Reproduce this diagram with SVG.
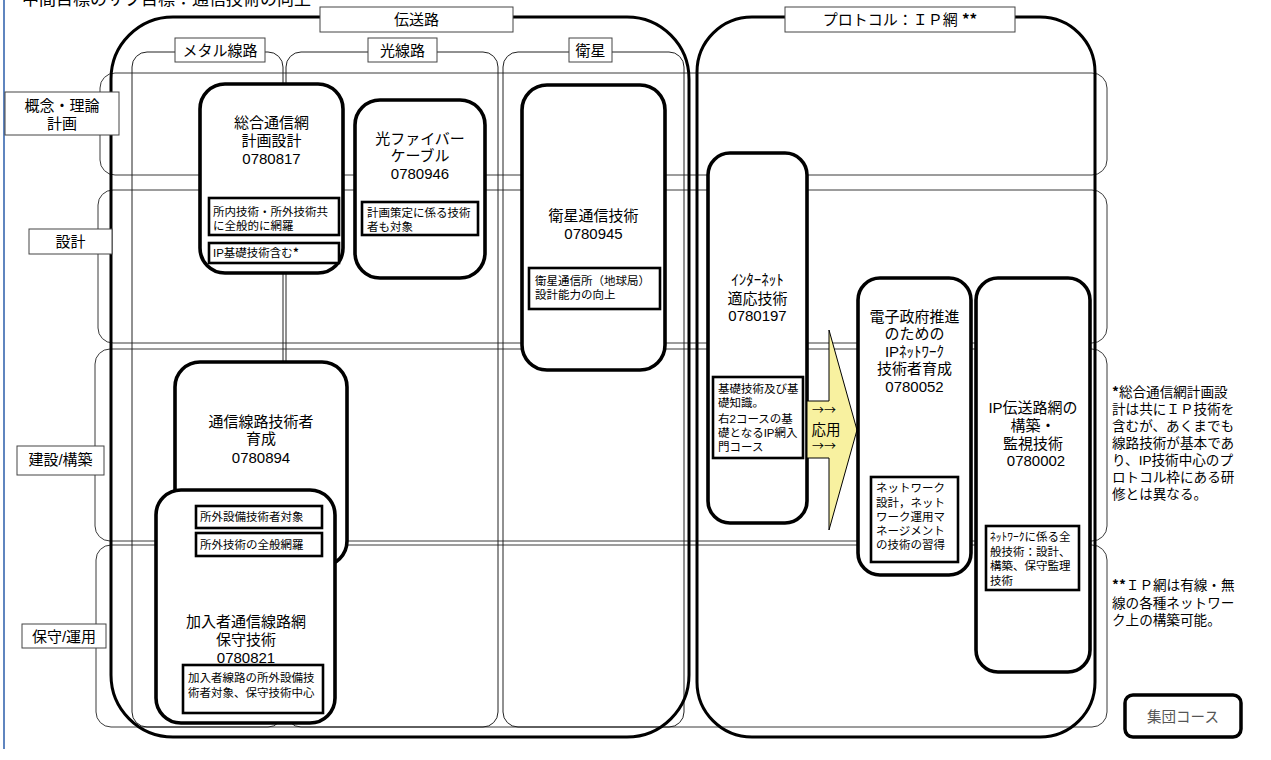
<svg xmlns="http://www.w3.org/2000/svg" width="1271" height="760" viewBox="0 0 1271 760">
<style>
  text { font-family: "Liberation Sans", "Noto Sans CJK JP", sans-serif; fill: #000; }
  .band { fill: none; stroke: #3a3a3a; stroke-width: 1; }
  .col { fill: none; stroke: #222; stroke-width: 1; }
  .frame { fill: none; stroke: #000; stroke-width: 3; }
  .node { fill: #fff; stroke: #000; stroke-width: 3.6; }
  .sub { fill: #fff; stroke: #000; stroke-width: 2.6; }
  .lbl { fill: #fff; stroke: #444; stroke-width: 1; }
  .t { font-size: 15px; text-anchor: middle; }
  .s { font-size: 11.5px; }
  .n { font-size: 13.6px; }
  .ast { font-family: "Noto Sans CJK JP", sans-serif; font-weight: bold; }
  .arr { font-family: "Noto Sans CJK JP", sans-serif; font-size: 12px; }
</style>

<line x1="4" y1="0" x2="4" y2="749" stroke="#2a5caa" stroke-width="1.5"/>
<text x="22" y="5" font-size="17" font-family="Liberation Serif, Noto Sans CJK JP, serif">中間目標のサブ目標：通信技術の向上</text>

<g id="rows">
  <rect class="band" x="100" y="73" width="1007" height="102" rx="15"/>
  <rect class="band" x="98" y="190" width="1009" height="153" rx="15"/>
  <rect class="band" x="95" y="349" width="1012" height="192" rx="15"/>
  <rect class="band" x="96" y="545" width="1011" height="182" rx="15"/>
</g>

<g id="columns">
  <rect class="col" x="132" y="52" width="151" height="675" rx="15"/>
  <rect class="col" x="286" y="52" width="212" height="675" rx="15"/>
  <rect class="col" x="503" y="52" width="181" height="675" rx="15"/>
</g>

<g id="frame-densoro">
  <rect class="frame" x="111" y="17" width="578" height="720" rx="62"/>
  <rect class="lbl" x="320" y="7" width="193" height="25"/>
  <text class="t" x="416.5" y="25">伝送路</text>
</g>
<g id="frame-protocol">
  <rect class="frame" x="697" y="17" width="398" height="720" rx="55"/>
  <rect class="lbl" x="785" y="7" width="230" height="25"/>
  <text class="t" x="900" y="25">プロトコル：ＩＰ網 <tspan class="ast">**</tspan></text>
</g>

<g id="col-labels">
  <g id="lbl-metal"><rect class="lbl" x="175" y="38" width="90" height="24"/><text class="t" x="220" y="55.5">メタル線路</text></g>
  <g id="lbl-hikari"><rect class="lbl" x="368" y="38" width="69" height="24"/><text class="t" x="402.5" y="55.5">光線路</text></g>
  <g id="lbl-eisei"><rect class="lbl" x="569" y="38" width="43" height="24"/><text class="t" x="590.5" y="55.5">衛星</text></g>
</g>

<g id="row-labels">
  <g id="lbl-gainen"><rect class="lbl" x="5" y="92" width="114" height="43"/><text class="t" x="62" y="110.5">概念・理論</text><text class="t" x="62" y="128.5">計画</text></g>
  <g id="lbl-sekkei"><rect class="lbl" x="29" y="229" width="83" height="25"/><text class="t" x="70.5" y="247">設計</text></g>
  <g id="lbl-kensetsu"><rect class="lbl" x="17" y="446" width="87" height="29"/><text class="t" x="60.5" y="464.5">建設/構築</text></g>
  <g id="lbl-hoshu"><rect class="lbl" x="22" y="624" width="84" height="24"/><text class="t" x="64" y="641.5">保守/運用</text></g>
</g>

<g id="node-0780817">
  <rect class="node" x="200" y="84" width="143" height="189" rx="25"/>
  <text class="t" x="271.5" y="127.5">総合通信網</text>
  <text class="t" x="271.5" y="145.5">計画設計</text>
  <text class="t" x="271.5" y="163.5">0780817</text>
  <rect class="sub" x="209" y="198" width="130" height="37"/>
  <text class="s" x="213" y="216">所内技術・所外技術共</text>
  <text class="s" x="213" y="229.5">に全般的に網羅</text>
  <rect class="sub" x="209" y="243" width="130" height="20"/>
  <text class="s" x="213" y="257.4">IP基礎技術含む<tspan class="ast">*</tspan></text>
</g>

<g id="node-0780946">
  <rect class="node" x="355" y="100" width="130" height="178" rx="25"/>
  <text class="t" x="420" y="143.5">光ファイバー</text>
  <text class="t" x="420" y="161">ケーブル</text>
  <text class="t" x="420" y="178.5">0780946</text>
  <rect class="sub" x="362" y="202" width="116" height="33"/>
  <text class="s" x="367" y="217.2">計画策定に係る技術</text>
  <text class="s" x="367" y="231.2">者も対象</text>
</g>

<g id="node-0780945">
  <rect class="node" x="522" y="85" width="143" height="285" rx="25"/>
  <text class="t" x="593.5" y="220.5">衛星通信技術</text>
  <text class="t" x="593.5" y="238.5">0780945</text>
  <rect class="sub" x="529" y="268" width="131" height="41"/>
  <text class="s" x="535" y="285">衛星通信所（地球局）</text>
  <text class="s" x="535" y="298.8">設計能力の向上</text>
</g>

<g id="node-0780894">
  <rect class="node" x="175" y="362" width="172" height="204" rx="25"/>
  <text class="t" x="261" y="426.5">通信線路技術者</text>
  <text class="t" x="261" y="444">育成</text>
  <text class="t" x="261" y="462.5">0780894</text>
</g>

<g id="node-0780821">
  <rect class="node" x="156" y="490" width="179" height="233" rx="25"/>
  <rect class="sub" x="196" y="506" width="126" height="22"/>
  <text class="s" x="200" y="521.2">所外設備技術者対象</text>
  <rect class="sub" x="196" y="533" width="126" height="23"/>
  <text class="s" x="200" y="548.8">所外技術の全般網羅</text>
  <text class="t" x="246" y="626.5">加入者通信線路網</text>
  <text class="t" x="246" y="644.5">保守技術</text>
  <text class="t" x="246" y="662.5">0780821</text>
  <rect class="sub" x="183" y="665" width="140" height="48"/>
  <text class="s" x="188" y="682.2">加入者線路の所外設備技</text>
  <text class="s" x="188" y="697.2">術者対象、保守技術中心</text>
</g>

<g id="node-0780197">
  <rect class="node" x="708" y="153" width="99" height="370" rx="22"/>
  <text class="t" x="757.5" y="284.5">ｲﾝﾀｰﾈｯﾄ</text>
  <text class="t" x="757.5" y="303.5">適応技術</text>
  <text class="t" x="757.5" y="321">0780197</text>
  <rect class="sub" x="713" y="377" width="90" height="81"/>
  <text class="s" x="718" y="393.2">基礎技術及び基</text>
  <text class="s" x="718" y="407.2">礎知識。</text>
  <text class="s" x="718" y="423.2">右2コースの基</text>
  <text class="s" x="718" y="437.2">礎となるIP網入</text>
  <text class="s" x="718" y="451.2">門コース</text>
</g>

<g id="connectors">
  <polygon points="807,401 829,401 829,330 857,430 829,530 829,458 807,458" fill="#f8f1a0" stroke="#000" stroke-width="1"/>
  <text class="arr" x="812" y="415">→→</text>
  <text x="826" y="434.5" font-size="14.5" text-anchor="middle">応用</text>
  <text class="arr" x="812" y="451">→→</text>
</g>

<g id="node-0780052">
  <rect class="node" x="858" y="278" width="113" height="297" rx="22"/>
  <text class="t" x="914.5" y="321.5">電子政府推進</text>
  <text class="t" x="914.5" y="339">のための</text>
  <text class="t" x="914.5" y="356.5">IPﾈｯﾄﾜｰｸ</text>
  <text class="t" x="914.5" y="374">技術者育成</text>
  <text class="t" x="914.5" y="391.5">0780052</text>
  <rect class="sub" x="871" y="477" width="87" height="85"/>
  <text class="s" x="876" y="492.4">ネットワーク</text>
  <text class="s" x="876" y="506.7">設計，ネット</text>
  <text class="s" x="876" y="521">ワーク運用マ</text>
  <text class="s" x="876" y="535.2">ネージメント</text>
  <text class="s" x="876" y="549.4">の技術の習得</text>
</g>

<g id="node-0780002">
  <rect class="node" x="976" y="278" width="114" height="394" rx="22"/>
  <text class="t" x="1033" y="412.5">IP伝送路網の</text>
  <text class="t" x="1033" y="430.5">構築・</text>
  <text class="t" x="1033" y="448.5">監視技術</text>
  <text class="t" x="1036" y="465.5">0780002</text>
  <rect class="sub" x="986" y="526" width="93" height="64"/>
  <text class="s" x="990" y="541.2">ﾈｯﾄﾜｰｸに係る全</text>
  <text class="s" x="990" y="555.8">般技術：設計、</text>
  <text class="s" x="990" y="570.4">構築、保守監理</text>
  <text class="s" x="990" y="585">技術</text>
</g>

<g id="notes">
  <text class="n" x="1112" y="396.5"><tspan class="ast">*</tspan>総合通信網計画設</text>
  <text class="n" x="1112" y="413.5">計は共にＩＰ技術を</text>
  <text class="n" x="1112" y="430.5">含むが、あくまでも</text>
  <text class="n" x="1112" y="447.5">線路技術が基本であ</text>
  <text class="n" x="1112" y="464.5">り、IP技術中心のプ</text>
  <text class="n" x="1112" y="481.5">ロトコル枠にある研</text>
  <text class="n" x="1112" y="498.5">修とは異なる。</text>
  <text class="n" x="1112" y="590"><tspan class="ast">**</tspan>ＩＰ網は有線・無</text>
  <text class="n" x="1112" y="607.5">線の各種ネットワー</text>
  <text class="n" x="1112" y="625">ク上の構築可能。</text>
</g>

<g id="legend">
  <rect x="1125" y="695" width="116" height="42" rx="8" fill="#fff" stroke="#000" stroke-width="3.5"/>
  <text x="1183" y="722" font-size="14.5" text-anchor="middle" style="fill:#555">集団コース</text>
</g>
</svg>
